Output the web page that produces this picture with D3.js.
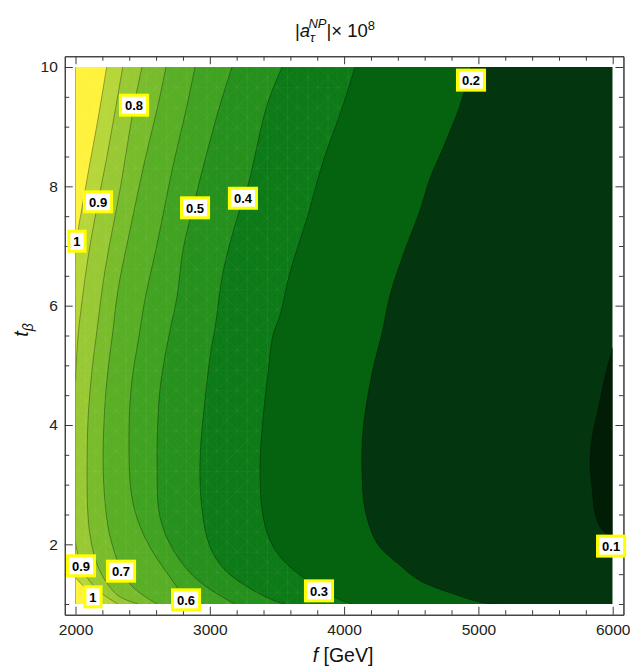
<!DOCTYPE html>
<html>
<head>
<meta charset="utf-8">
<script src="https://cdn.jsdelivr.net/npm/d3@7"></script>
<style>
  body { margin: 0; background: #fff; }
  svg { display: block; }
  text { font-family: "Liberation Sans", Arial, sans-serif; }
</style>
</head>
<body>
<svg id="chart" width="630" height="666"></svg>
<script>
// Contour levels of |a_tau^NP| x 1e8 and the fill colour of each band
// (bandColors[0] is below 0.1, bandColors[i] lies between levels[i-1] and levels[i], the last is above 1).
const levels = [0.1, 0.2, 0.3, 0.4, 0.5, 0.6, 0.7, 0.8, 0.9, 1.0];
const bandColors = ["#011d06", "#03350e", "#05630f", "#0c7a16", "#26901c", "#40a221",
                    "#58ae25", "#78bc2c", "#98c934", "#b6d63a", "#fff23c"];

// Contour lines as [f (GeV), t_beta] points
const c01 = [[6000,5.3],[5943,4.81],[5891,4.25],[5853,3.87],[5831,3.41],[5846,2.96],[5868,2.53],[5920,2.24],[6000,2.12]];
const c02 = [[4945,10],[4863,9.36],[4736,8.64],[4640,8.14],[4565,7.60],[4439,6.85],[4342,6.18],[4282,5.54],[4208,4.87],[4141,3.92],[4133,3.25],[4156,2.58],[4245,2.02],[4394,1.69],[4565,1.39],[4811,1.17],[5012,1.03],[5138,1.0]];
const c03 = [[4081,10],[3992,9.36],[3843,8.41],[3724,7.47],[3597,6.56],[3523,5.84],[3471,5.51],[3433,4.87],[3389,3.92],[3374,3.25],[3397,2.46],[3471,1.96],[3597,1.62],[3798,1.29],[3969,1.07],[4059,1.0]];
const c04 = [[3538,10],[3426,9.36],[3284,8.02],[3203,7.47],[3098,6.56],[3039,5.63],[3009,5.26],[2964,4.42],[2927,3.41],[2942,2.58],[3001,1.96],[3113,1.57],[3314,1.24],[3508,1.03],[3560,1.0]];
const c05 = [[3165,10],[3061,9.25],[2964,8.44],[2875,7.65],[2800,6.93],[2756,6.15],[2704,5.59],[2652,4.97],[2622,4.42],[2607,3.33],[2629,2.46],[2726,1.91],[2890,1.44],[3091,1.12],[3187,1.0]];
const c06 = [[2890,10],[2823,9.28],[2719,8.27],[2614,7.10],[2517,6.10],[2480,5.59],[2413,4.59],[2398,3.58],[2413,2.9],[2450,2.5],[2520,2.1],[2610,1.75],[2720,1.4],[2823,1.07],[2860,1.0]];
const c07 = [[2674,10],[2614,9.36],[2517,8.44],[2406,7.27],[2316,6.26],[2279,5.59],[2227,4.59],[2205,3.41],[2220,2.7],[2250,2.2],[2300,1.8],[2340,1.55],[2420,1.3],[2520,1.12],[2607,1.0]];
const c08 = [[2495,10],[2436,9.36],[2331,7.94],[2220,6.60],[2160,5.59],[2123,4.92],[2093,4.08],[2086,3.25],[2090,2.6],[2105,2.2],[2135,1.85],[2182,1.55],[2250,1.3],[2330,1.12],[2465,1.0]];
const c09a = [[2352,10],[2290,9.2],[2230,8.45],[2168,7.74],[2100,6.9],[2050,6.1],[2019,5.5],[2005,5.0],[2000,4.75]];
const c09b = [[2000,2.02],[2041,1.64],[2100,1.40],[2200,1.17],[2316,1.0]];
const c10a = [[2232,10],[2165,9.1],[2100,8.3],[2045,7.6],[2005,7.1],[2000,7.05]];
const c10b = [[2000,1.44],[2078,1.25],[2130,1.12],[2182,1.0]];

// Inline contour labels: text and [f, t_beta] position
const labelText = ["1", "0.9", "0.8", "0.5", "0.4", "0.2", "0.9", "1", "0.7", "0.6", "0.3", "0.1"];
const labelPos = [[2011,7.08],[2168,7.74],[2436,9.36],[2890,7.64],[3247,7.80],[4945,9.78],
                  [2041,1.64],[2130,1.12],[2339,1.55],[2823,1.07],[3813,1.22],[5988,1.97]];

// Axis ticks
const xMajor = [2000, 3000, 4000, 5000, 6000];
const xMinor = d3.range(2000, 6001, 200).filter(v => v % 1000 !== 0);
const yMajor = [2, 4, 6, 8, 10];
const yMinor = d3.range(1, 10.01, 0.5).filter(v => v % 2 !== 0);

const svg = d3.select("#chart");

// Frame spans the data range plus 2% padding on each side
const x = d3.scaleLinear().domain([1920, 6080]).range([64.76, 623.44]);
const y = d3.scaleLinear().domain([0.82, 10.18]).range([614.74, 56.26]);
const fMin = 2000, fMax = 6000, tMin = 1, tMax = 10;

const defs = svg.append("defs");
defs.append("clipPath").attr("id", "plotClip")
  .append("rect")
  .attr("x", x(fMin)).attr("y", y(tMax))
  .attr("width", x(fMax) - x(fMin)).attr("height", y(tMin) - y(tMax));

// Faint polygon-mesh seams of the filled contours
const cell = 20.2;
const mesh = defs.append("pattern").attr("id", "mesh").attr("patternUnits", "userSpaceOnUse")
  .attr("x", x(fMin)).attr("y", y(tMax)).attr("width", cell).attr("height", cell);
mesh.append("path")
  .attr("d", `M0,0H${cell}V${cell}M0,0L${cell},${cell}M${cell},0L0,${cell}M${cell / 2},0V${cell}`)
  .attr("fill", "none").attr("stroke", "rgba(255,255,255,0.075)").attr("stroke-width", 0.7);

const plot = svg.append("g").attr("clip-path", "url(#plotClip)");

const curve = d3.line().x(d => x(d[0])).y(d => y(d[1])).curve(d3.curveCatmullRom.alpha(0.5));

// Region where the value exceeds a level: left of its contour, closed along f = 2000
function leftRegion(piece) {
  const first = piece[0], last = piece[piece.length - 1];
  return curve(piece) + `L${x(fMin)},${y(last[1])}L${x(fMin)},${y(first[1])}Z`;
}

const contours = [
  { level: 0.2, pieces: [c02] }, { level: 0.3, pieces: [c03] }, { level: 0.4, pieces: [c04] },
  { level: 0.5, pieces: [c05] }, { level: 0.6, pieces: [c06] }, { level: 0.7, pieces: [c07] },
  { level: 0.8, pieces: [c08] }, { level: 0.9, pieces: [c09a, c09b] }, { level: 1.0, pieces: [c10a, c10b] }
];

// Background band (0.1 - 0.2)
plot.append("rect")
  .attr("x", x(fMin)).attr("y", y(tMax))
  .attr("width", x(fMax) - x(fMin)).attr("height", y(tMin) - y(tMax))
  .attr("fill", bandColors[1]);

contours.forEach(c => {
  const k = levels.indexOf(c.level);
  c.pieces.forEach(p => {
    plot.append("path").attr("d", leftRegion(p)).attr("fill", bandColors[k + 1]);
  });
});

// Pocket below 0.1 on the right edge
plot.append("path").attr("d", curve(c01) + "Z").attr("fill", bandColors[0]);

// Mesh seams show over the brighter bands
plot.append("path").attr("d", leftRegion(c03)).attr("fill", "url(#mesh)");

// Contour lines
const allPieces = [c01].concat(...contours.map(c => c.pieces));
plot.selectAll("path.cline").data(allPieces).join("path")
  .attr("class", "cline")
  .attr("d", d => curve(d))
  .attr("fill", "none")
  .attr("stroke", "rgba(0,0,0,0.4)")
  .attr("stroke-width", 0.8);

// Frame and ticks on all four sides, pointing inward
function styleAxis(g) {
  g.selectAll(".domain").attr("stroke", "#3a3a3a").attr("stroke-width", 1);
  g.selectAll(".tick line").attr("stroke", "#3a3a3a").attr("stroke-width", 1);
  g.selectAll(".tick text").attr("fill", "#222").attr("font-size", 15.5)
    .attr("font-family", "'Liberation Sans', Arial, sans-serif");
}
const axBottom = svg.append("g").attr("transform", `translate(0,${y.range()[0]})`);
axBottom.append("g").call(d3.axisBottom(x).tickValues(xMajor).tickSize(-8).tickSizeOuter(0).tickPadding(9).tickFormat(d3.format("d"))).call(styleAxis);
axBottom.append("g").call(d3.axisBottom(x).tickValues(xMinor).tickSize(-4.5).tickSizeOuter(0).tickFormat("")).call(styleAxis);

const axTop = svg.append("g").attr("transform", `translate(0,${y.range()[1]})`);
axTop.append("g").call(d3.axisTop(x).tickValues(xMajor).tickSize(-8).tickSizeOuter(0).tickFormat("")).call(styleAxis);
axTop.append("g").call(d3.axisTop(x).tickValues(xMinor).tickSize(-4.5).tickSizeOuter(0).tickFormat("")).call(styleAxis);

const axLeft = svg.append("g").attr("transform", `translate(${x.range()[0]},0)`);
axLeft.append("g").call(d3.axisLeft(y).tickValues(yMajor).tickSize(-8).tickSizeOuter(0).tickPadding(7).tickFormat(d3.format("d"))).call(styleAxis);
axLeft.append("g").call(d3.axisLeft(y).tickValues(yMinor).tickSize(-4.5).tickSizeOuter(0).tickFormat("")).call(styleAxis);

const axRight = svg.append("g").attr("transform", `translate(${x.range()[1]},0)`);
axRight.append("g").call(d3.axisRight(y).tickValues(yMajor).tickSize(-8).tickSizeOuter(0).tickFormat("")).call(styleAxis);
axRight.append("g").call(d3.axisRight(y).tickValues(yMinor).tickSize(-4.5).tickSizeOuter(0).tickFormat("")).call(styleAxis);

// Contour labels: white box with yellow border
const labels = svg.append("g").selectAll("g").data(labelText.map((t, i) => ({ t, p: labelPos[i] })))
  .join("g")
  .attr("transform", d => `translate(${x(d.p[0])},${y(d.p[1])})`);
labels.each(function (d) {
  const g = d3.select(this);
  const rect = g.append("rect");
  const txt = g.append("text").text(d.t)
    .attr("text-anchor", "middle").attr("dy", "0.36em")
    .attr("font-size", 13).attr("font-weight", "bold").attr("fill", "#000");
  const w = txt.node().getComputedTextLength() + 9;
  const h = 20;
  rect.attr("x", -w / 2).attr("y", -h / 2).attr("width", w).attr("height", h)
    .attr("fill", "#fff").attr("stroke", "#ffff00").attr("stroke-width", 3);
});

// Title
const title = svg.append("text").attr("x", 335).attr("y", 37).attr("text-anchor", "middle")
  .attr("font-size", 18.5).attr("fill", "#111");
title.append("tspan").text("|");
title.append("tspan").attr("font-style", "italic").text("a");
title.append("tspan").attr("font-style", "italic").attr("font-size", 13).attr("dy", 5).text("τ");
title.append("tspan").attr("font-style", "italic").attr("font-size", 13).attr("dx", -6.5).attr("dy", -14).text("NP");
title.append("tspan").attr("dy", 9).text("|× 10");
title.append("tspan").attr("font-size", 13).attr("dy", -7.5).text("8");

// Axis titles
const xt = svg.append("text").attr("x", 343).attr("y", 662).attr("text-anchor", "middle")
  .attr("font-size", 19.5).attr("fill", "#111");
xt.append("tspan").attr("font-style", "italic").text("f");
xt.append("tspan").text(" [GeV]");

const yt = svg.append("text").attr("transform", "translate(28,330) rotate(-90)")
  .attr("text-anchor", "middle").attr("font-size", 20).attr("fill", "#111");
yt.append("tspan").attr("font-style", "italic").text("t");
yt.append("tspan").attr("font-style", "italic").attr("font-size", 14).attr("dy", 5).text("β");
</script>
</body>
</html>
